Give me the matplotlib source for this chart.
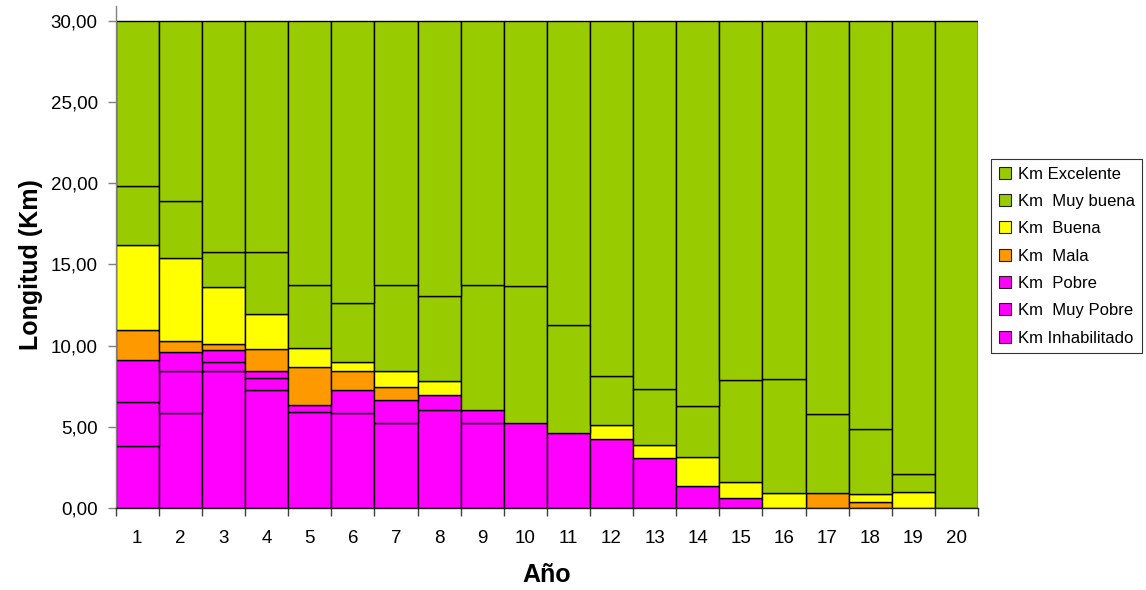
import matplotlib
matplotlib.use("Agg")
import matplotlib.pyplot as plt
from matplotlib.patches import Rectangle
from matplotlib.ticker import FixedLocator, FuncFormatter

plt.rcParams['font.family'] = ['Liberation Sans', 'DejaVu Sans']

years = list(range(1, 21))

# Km per condition class, stacked bottom-up
km_inhabilitado = [3.82, 5.83, 8.46, 7.27, 5.89, 5.83, 5.22, 6.06, 5.22, 5.22,
                   4.64, 4.27, 3.08, 1.38, 0.64, 0.00, 0.00, 0.00, 0.00, 0.00]
km_muy_pobre = [2.69, 2.63, 0.51, 0.72, 0.46, 1.44, 1.43, 0.90, 0.84, 0.00,
                0.00, 0.00, 0.00, 0.00, 0.00, 0.00, 0.00, 0.00, 0.00, 0.00]
km_pobre = [2.61, 1.13, 0.76, 0.47, 0.00, 0.00, 0.00, 0.00, 0.00, 0.00,
            0.00, 0.00, 0.00, 0.00, 0.00, 0.00, 0.00, 0.00, 0.00, 0.00]
km_mala = [1.85, 0.70, 0.35, 1.34, 2.32, 1.19, 0.82, 0.00, 0.00, 0.00,
           0.00, 0.00, 0.00, 0.00, 0.00, 0.00, 0.90, 0.35, 0.00, 0.00]
km_buena = [5.23, 5.09, 3.52, 2.15, 1.21, 0.51, 0.99, 0.88, 0.00, 0.00,
            0.00, 0.82, 0.80, 1.78, 0.96, 0.94, 0.00, 0.49, 0.97, 0.00]
km_muy_buena = [3.66, 3.55, 2.15, 3.80, 3.86, 3.64, 5.28, 5.24, 7.68, 8.44,
                6.64, 3.06, 3.45, 3.12, 6.26, 6.99, 4.87, 4.05, 1.10, 0.00]
km_excelente = [10.14, 11.07, 14.25, 14.25, 16.26, 17.39, 16.26, 16.92, 16.26, 16.34,
                18.72, 21.85, 22.67, 23.72, 22.14, 22.07, 24.23, 25.11, 27.93, 30.00]

series_labels = ["Km Inhabilitado", "Km  Muy Pobre", "Km  Pobre", "Km  Mala",
                 "Km  Buena", "Km  Muy buena", "Km Excelente"]
series_values = [km_inhabilitado, km_muy_pobre, km_pobre, km_mala,
                 km_buena, km_muy_buena, km_excelente]
series_colors = ["#FF00FF", "#FF00FF", "#FF00FF", "#FF9900",
                 "#FFFF00", "#99CC00", "#99CC00"]

y_ticks = [0, 5, 10, 15, 20, 25, 30]

fig = plt.figure(figsize=(11.46, 5.90), dpi=100)
ax = fig.add_axes([0.101, 0.139, 0.7524, 0.8508])

bottom = [0.0] * len(years)
for vals, col in zip(series_values, series_colors):
    lws = [1.0 if v > 0 else 0 for v in vals]
    ax.bar(years, vals, width=1.0, bottom=bottom, color=col,
           edgecolor="black", linewidth=lws, zorder=2)
    bottom = [b + v for b, v in zip(bottom, vals)]

ax.set_xlim(0.5, 20.5)
ax.set_ylim(0, 30.92)

ax.yaxis.set_major_locator(FixedLocator(y_ticks))
ax.yaxis.set_major_formatter(FuncFormatter(lambda v, p: f"{v:.2f}".replace(".", ",")))
ax.tick_params(axis="y", direction="out", length=5.5, width=1, color="#808080",
               pad=7.5, labelsize=13.5)

# labels at bar centres, tick marks at bar boundaries
ax.xaxis.set_major_locator(FixedLocator(years))
ax.xaxis.set_major_formatter(FuncFormatter(lambda v, p: f"{int(v)}"))
ax.xaxis.set_minor_locator(FixedLocator([y + 0.5 for y in [0] + years]))
ax.tick_params(axis="x", which="major", length=0, pad=16, labelsize=13.5)
ax.tick_params(axis="x", which="minor", direction="out", length=6, width=1,
               color="#404040")

for s in ["top", "right"]:
    ax.spines[s].set_visible(False)
ax.spines["left"].set_color("#808080")
ax.spines["bottom"].set_color("#202020")
ax.spines["left"].set_linewidth(1)
ax.spines["bottom"].set_linewidth(1)

fig.text(31 / 1146, 0.551, "Longitud (Km)", rotation=90, ha="center",
         va="center", fontsize=18, fontweight="bold")
fig.text(0.4772, 1 - 575 / 590, "Año", ha="center", va="center",
         fontsize=18, fontweight="bold")

handles = [Rectangle((0, 0), 1, 1, facecolor=c, edgecolor="#202020", linewidth=0.8)
           for c in series_colors]
leg = fig.legend(handles[::-1], series_labels[::-1], loc="upper left",
                 bbox_to_anchor=(991 / 1146, 1 - 159 / 590),
                 fontsize=12, frameon=True, fancybox=False, shadow=False,
                 edgecolor="black", handlelength=0.75, handleheight=0.75,
                 handletextpad=0.4, labelspacing=0.74, borderpad=0.45,
                 borderaxespad=0)
leg.get_frame().set_linewidth(0.8)

fig.savefig("out.png", dpi=100)
